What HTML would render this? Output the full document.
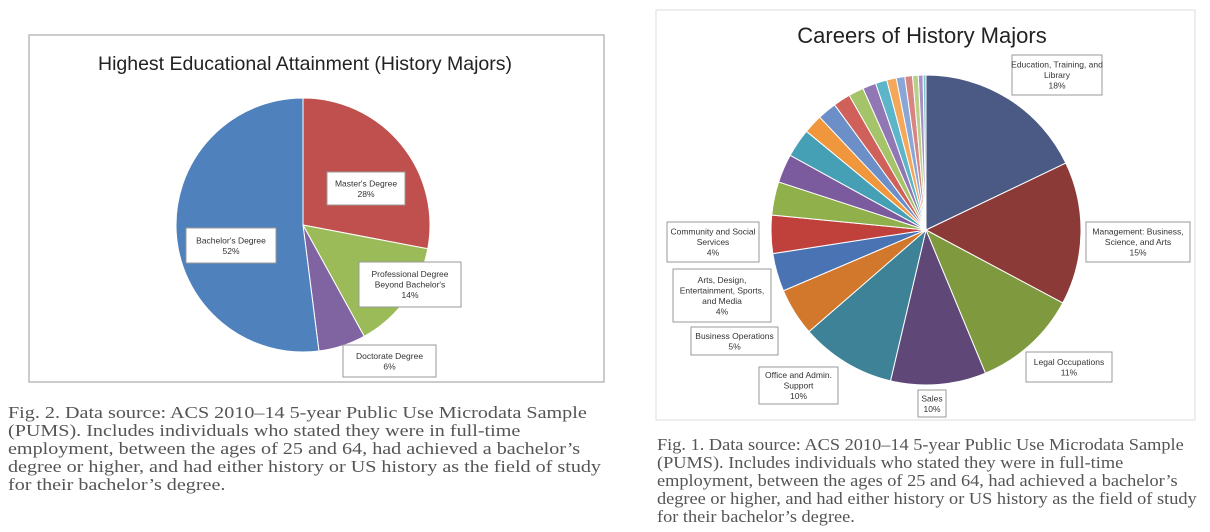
<!DOCTYPE html>
<html><head><meta charset="utf-8"><style>
html,body{margin:0;padding:0;background:#fff;width:1210px;height:532px;overflow:hidden}
svg{display:block}
.cap{font-family:"Liberation Serif",serif;font-size:16.5px;fill:#555}
.lbl{font-family:"Liberation Sans",sans-serif;font-size:8.5px;fill:#333}
</style></head><body>
<svg id="c" width="1210" height="532">
<rect x="29" y="35" width="575" height="347" fill="#fff" stroke="#bbb" stroke-width="1.5"/>
<text x="305" y="70" text-anchor="middle" font-family="Liberation Sans,sans-serif" font-size="19.5" fill="#222">Highest Educational Attainment (History Majors)</text>
<g id="leftPie"></g>
<g id="leftLabels"></g>
<g transform="translate(8,0) scale(1.22,1)">
<text class="cap"><tspan x="0" y="418">Fig. 2. Data source: ACS 2010–14 5-year Public Use Microdata Sample</tspan><tspan x="0" y="436">(PUMS). Includes individuals who stated they were in full-time</tspan><tspan x="0" y="454">employment, between the ages of 25 and 64, had achieved a bachelor’s</tspan><tspan x="0" y="472">degree or higher, and had either history or US history as the field of study</tspan><tspan x="0" y="490">for their bachelor’s degree.</tspan></text>
</g>

<rect x="656" y="10" width="539" height="410" fill="#fff" stroke="#ddd" stroke-width="1"/>
<text x="922" y="43" text-anchor="middle" font-family="Liberation Sans,sans-serif" font-size="22" fill="#222">Careers of History Majors</text>
<g id="rightPie"></g>
<g id="rightLabels"></g>
<g transform="translate(657,0) scale(1.11,1)">
<text class="cap"><tspan x="0" y="450">Fig. 1. Data source: ACS 2010–14 5-year Public Use Microdata Sample</tspan><tspan x="0" y="468">(PUMS). Includes individuals who stated they were in full-time</tspan><tspan x="0" y="486">employment, between the ages of 25 and 64, had achieved a bachelor’s</tspan><tspan x="0" y="504">degree or higher, and had either history or US history as the field of study</tspan><tspan x="0" y="522">for their bachelor’s degree.</tspan></text>
</g>
</svg>
<script>
const leftCats=["Master's Degree","Professional Degree Beyond Bachelor's","Doctorate Degree","Bachelor's Degree"];
const leftVals=[28,14,6,52];
const leftColors=["#c0504d","#9bbb59","#8064a2","#4f81bd"];
const rightCats=["Education, Training, and Library","Management: Business, Science, and Arts","Legal Occupations","Sales","Office and Admin. Support","Business Operations","Arts, Design, Entertainment, Sports, and Media","Community and Social Services","o9","o10","o11","o12","o13","o14","o15","o16","o17","o18","o19","o20","o21","o22","o23"];
const rightVals=[18,15,11,10,10,5,4,4,3.5,3,3,2,2,1.8,1.6,1.4,1.2,1,0.9,0.8,0.6,0.5,0.3];
const rightColors=["#4a5a85","#8c3a38","#7f993f","#5f4878","#3d8297","#d2782c","#4a73b3","#c0403c","#8fb04a","#7b5a9e","#46a0b5","#f0963c","#6c8fc8","#d0605a","#a5c46a","#9178b5","#5cb5c8","#f5a85a","#8aa6d6","#d88480","#b8d088","#a890c4","#7cc4d4"];

const NS="http://www.w3.org/2000/svg";
function drawPie(g,vals,colors,cx,cy,r){
  const total=vals.reduce((a,b)=>a+b,0);
  let a=0;
  vals.forEach((v,i)=>{
    const a0=a/total*2*Math.PI, a1=(a+v)/total*2*Math.PI; a+=v;
    const x0=cx+r*Math.sin(a0), y0=cy-r*Math.cos(a0), x1=cx+r*Math.sin(a1), y1=cy-r*Math.cos(a1);
    const p=document.createElementNS(NS,"path");
    p.setAttribute("d",`M${cx},${cy}L${x0},${y0}A${r},${r} 0 ${a1-a0>Math.PI?1:0} 1 ${x1},${y1}Z`);
    p.setAttribute("fill",colors[i%colors.length]);
    p.setAttribute("stroke","#fff");p.setAttribute("stroke-width","1");
    
    
    g.appendChild(p);
  });
}
function label(g,x,y,w,h,lines){
  const r=document.createElementNS(NS,"rect");
  r.setAttribute("x",x);r.setAttribute("y",y);r.setAttribute("width",w);r.setAttribute("height",h);
  r.setAttribute("fill","#fff");r.setAttribute("stroke","#999");r.setAttribute("stroke-width","1");
  
  
  g.appendChild(r);
  const t=document.createElementNS(NS,"text");t.setAttribute("class","lbl");t.setAttribute("text-anchor","middle");
  
  
  const lh=10.5, sy=y+h/2-(lines.length-1)*lh/2+3;
  lines.forEach((s,i)=>{const ts=document.createElementNS(NS,"tspan");ts.setAttribute("x",x+w/2);ts.setAttribute("y",sy+i*lh);ts.textContent=s;t.appendChild(ts);});
  g.appendChild(t);
}
drawPie(document.getElementById("leftPie"),leftVals,leftColors,303,225,127);
drawPie(document.getElementById("rightPie"),rightVals,rightColors,926,230,155);
const L=document.getElementById("leftLabels");
label(L,327,172,78,33,["Master's Degree",leftVals[0]+"%"]);
label(L,186,228,90,35,["Bachelor's Degree",leftVals[3]+"%"]);
label(L,359,262,102,45,["Professional Degree","Beyond Bachelor's",leftVals[1]+"%"]);
label(L,343,345,93,32,["Doctorate Degree",leftVals[2]+"%"]);
const R=document.getElementById("rightLabels");
label(R,1012,55,90,40,["Education, Training, and","Library",rightVals[0]+"%"]);
label(R,1086,222,104,40,["Management: Business,","Science, and Arts",rightVals[1]+"%"]);
label(R,1026,352,86,30,["Legal Occupations",rightVals[2]+"%"]);
label(R,918,390,28,27,["Sales",rightVals[3]+"%"]);
label(R,759,367,79,37,["Office and Admin.","Support",rightVals[4]+"%"]);
label(R,691,327,87,28,["Business Operations",rightVals[5]+"%"]);
label(R,673,269,98,53,["Arts, Design,","Entertainment, Sports,","and Media",rightVals[6]+"%"]);
label(R,667,222,92,40,["Community and Social","Services",rightVals[7]+"%"]);
</script>
</body></html>
